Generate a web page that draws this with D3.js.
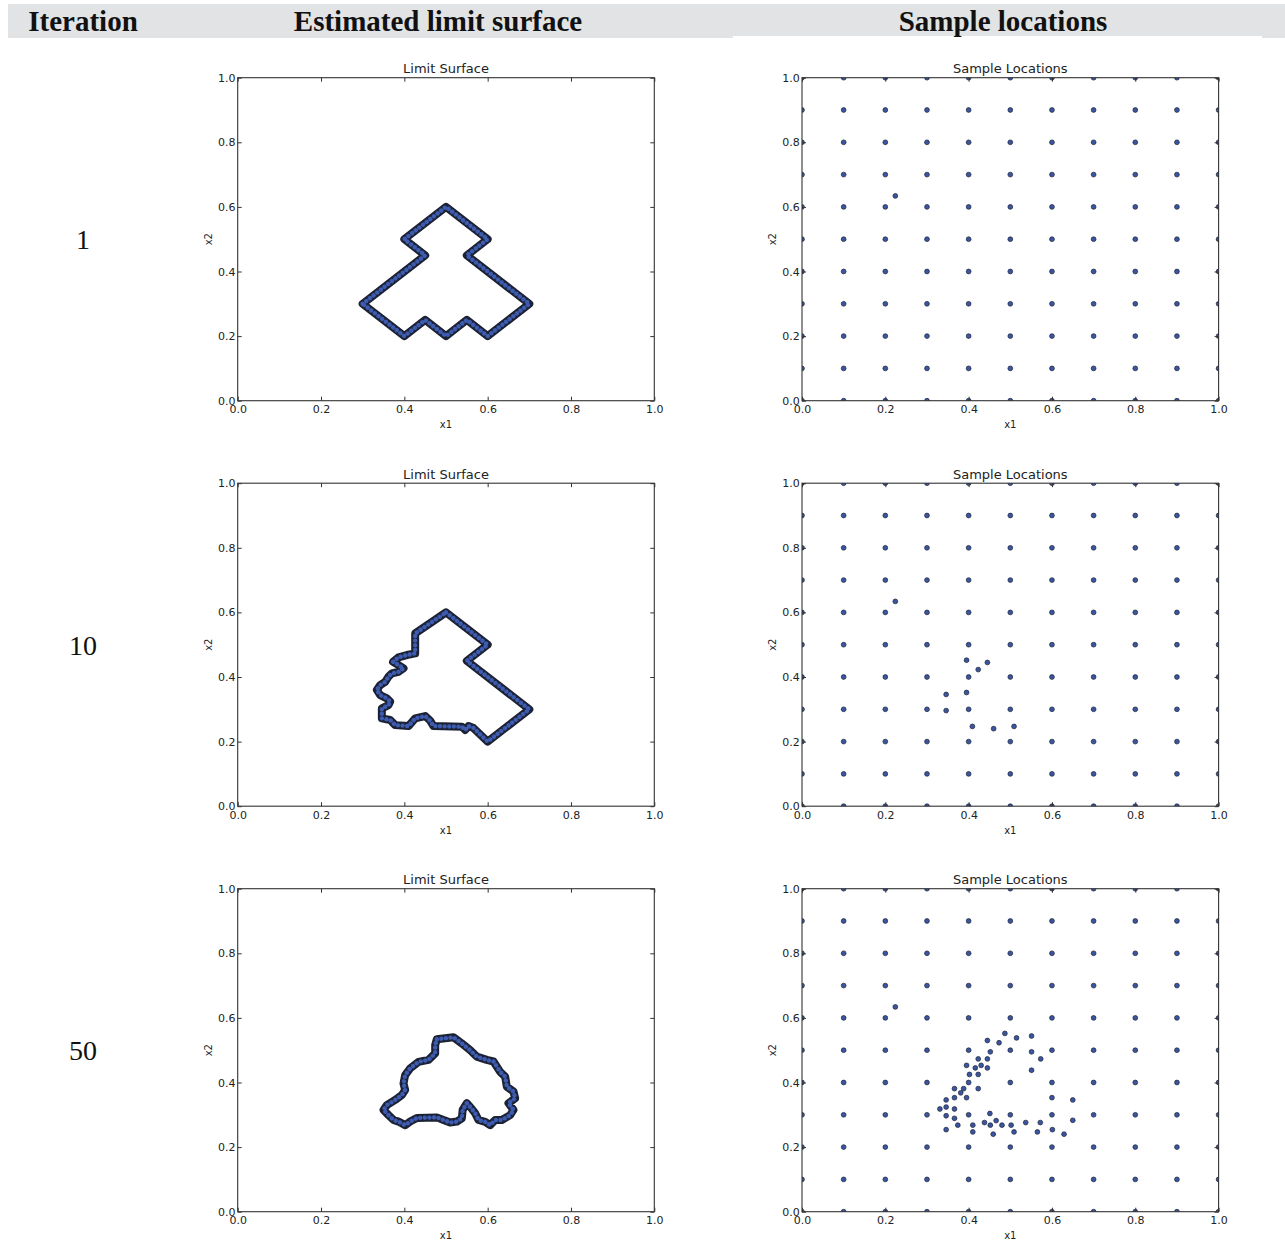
<!DOCTYPE html>
<html>
<head>
<meta charset="utf-8">
<script src="https://cdn.jsdelivr.net/npm/d3@7"></script>
<style>
  html, body { margin: 0; padding: 0; background: #ffffff; }
  svg { display: block; }
</style>
</head>
<body>
<svg id="chart" width="1285" height="1242"></svg>
<script>
// ---------------- DATA ----------------
const headerLabels = ["Iteration", "Estimated limit surface", "Sample locations"];
const iterationLabels = ["1", "10", "50"];
const plotTitles = ["Limit Surface", "Sample Locations"];
const axisLabels = ["x1", "x2"];
const tickValues = [0.0, 0.2, 0.4, 0.6, 0.8, 1.0];

// initial 11 x 11 sample grid coordinates
const gridValues = [0.0, 0.1, 0.2, 0.3, 0.4, 0.5, 0.6, 0.7, 0.8, 0.9, 1.0];

// adaptive samples added after the grid
const extraSamples1 = [[0.224, 0.634]];
const extraSamples10 = [
  [0.224, 0.634], [0.395, 0.452], [0.445, 0.445], [0.423, 0.423], [0.346, 0.346],
  [0.395, 0.352], [0.346, 0.296], [0.409, 0.247], [0.460, 0.240], [0.509, 0.247]
];
const extraSamples50 = [
  [0.224, 0.634],
  [0.487, 0.552], [0.445, 0.530], [0.473, 0.523], [0.515, 0.538], [0.551, 0.544],
  [0.452, 0.495], [0.551, 0.495], [0.573, 0.473], [0.423, 0.473], [0.445, 0.473],
  [0.395, 0.453], [0.416, 0.445], [0.430, 0.453], [0.445, 0.445], [0.551, 0.438],
  [0.402, 0.425], [0.423, 0.425], [0.366, 0.381], [0.388, 0.381], [0.423, 0.381],
  [0.381, 0.368], [0.346, 0.346], [0.366, 0.353], [0.395, 0.353], [0.600, 0.353],
  [0.650, 0.346], [0.331, 0.318], [0.346, 0.324], [0.366, 0.318], [0.346, 0.297],
  [0.366, 0.289], [0.451, 0.304], [0.650, 0.283], [0.374, 0.268], [0.410, 0.268],
  [0.438, 0.276], [0.452, 0.268], [0.466, 0.282], [0.480, 0.268], [0.502, 0.268],
  [0.537, 0.276], [0.572, 0.276], [0.346, 0.254], [0.410, 0.247], [0.459, 0.240],
  [0.509, 0.247], [0.565, 0.247], [0.601, 0.254], [0.629, 0.240]
];

// estimated limit surface (boundary vertices)
const limitSurface1 = [
  [0.30, 0.30], [0.45, 0.45], [0.40, 0.50], [0.50, 0.60], [0.60, 0.50], [0.55, 0.45],
  [0.70, 0.30], [0.60, 0.20], [0.55, 0.25], [0.50, 0.20], [0.45, 0.25], [0.40, 0.20]
];
const limitSurface10 = [
  [0.500, 0.600], [0.600, 0.500], [0.550, 0.450], [0.700, 0.300], [0.600, 0.200],
  [0.566, 0.242], [0.554, 0.248], [0.546, 0.236], [0.538, 0.246], [0.470, 0.248],
  [0.462, 0.265], [0.450, 0.279], [0.426, 0.272], [0.410, 0.248], [0.378, 0.251],
  [0.366, 0.267], [0.346, 0.272], [0.346, 0.303], [0.362, 0.313], [0.366, 0.324],
  [0.358, 0.334], [0.342, 0.344], [0.334, 0.360], [0.342, 0.375], [0.354, 0.385],
  [0.362, 0.401], [0.370, 0.411], [0.386, 0.416], [0.398, 0.427], [0.386, 0.437],
  [0.373, 0.447], [0.386, 0.461], [0.406, 0.468], [0.426, 0.473], [0.426, 0.535]
];
const limitSurface50 = [
  [0.478, 0.534], [0.518, 0.540], [0.538, 0.521], [0.558, 0.500], [0.574, 0.480],
  [0.598, 0.470], [0.614, 0.465], [0.630, 0.433], [0.642, 0.418], [0.646, 0.387],
  [0.662, 0.372], [0.666, 0.351], [0.650, 0.336], [0.662, 0.315], [0.654, 0.299],
  [0.634, 0.284], [0.618, 0.284], [0.606, 0.268], [0.594, 0.278], [0.578, 0.284],
  [0.570, 0.305], [0.561, 0.320], [0.550, 0.336], [0.540, 0.315], [0.538, 0.289],
  [0.526, 0.279], [0.510, 0.276], [0.494, 0.284], [0.478, 0.292], [0.430, 0.290],
  [0.414, 0.279], [0.402, 0.268], [0.386, 0.279], [0.374, 0.284], [0.362, 0.299],
  [0.350, 0.315], [0.358, 0.330], [0.378, 0.346], [0.394, 0.361], [0.402, 0.377],
  [0.398, 0.397], [0.402, 0.423], [0.414, 0.444], [0.434, 0.464], [0.458, 0.470],
  [0.474, 0.490], [0.474, 0.516]
];

const limitSurfaces = [limitSurface1, limitSurface10, limitSurface50];
const extraSamples = [extraSamples1, extraSamples10, extraSamples50];

// ---------------- LAYOUT ----------------
const svg = d3.select("#chart");
const plotW = 416.6, plotH = 323;
const limitLeft = 237.7, sampleLeft = 802;
const rowTops = [77.7, 483.2, 888.7];
const plotFont = "'DejaVu Sans', 'Bitstream Vera Sans', sans-serif";
const serifFont = "'Liberation Serif', 'Times New Roman', serif";
const dotFill = "#3a55a2";
const dotEdge = "#1c2233";

// header band
svg.append("rect").attr("x", 8).attr("y", 4).attr("width", 1277).attr("height", 34).attr("fill", "#e2e3e5");
svg.append("rect").attr("x", 733).attr("y", 36).attr("width", 529).attr("height", 2.5).attr("fill", "#ffffff");

const headerX = [83, 438, 1003];
svg.selectAll("text.header").data(headerLabels).join("text")
  .attr("class", "header")
  .attr("x", (d, i) => headerX[i]).attr("y", 31)
  .attr("text-anchor", "middle")
  .attr("font-family", serifFont).attr("font-weight", "bold").attr("font-size", 29)
  .attr("fill", "#111")
  .text(d => d);

// iteration labels
svg.selectAll("text.iter").data(iterationLabels).join("text")
  .attr("class", "iter")
  .attr("x", 83).attr("y", (d, i) => rowTops[i] + plotH / 2 + 10)
  .attr("text-anchor", "middle")
  .attr("font-family", serifFont).attr("font-size", 28)
  .attr("fill", "#111")
  .text(d => d);

const fmt = d3.format(".1f");

function drawFrame(g, x, y, title) {
  // ticks inside on all sides
  const tickCol = "#333";
  const bottom = g.append("g").attr("transform", `translate(0,${plotH})`)
    .call(d3.axisBottom(x).tickValues(tickValues).tickSize(-4).tickPadding(5).tickFormat(fmt));
  const left = g.append("g")
    .call(d3.axisLeft(y).tickValues(tickValues).tickSize(-4).tickPadding(2.2).tickFormat(fmt));
  const top = g.append("g")
    .call(d3.axisTop(x).tickValues(tickValues).tickSize(-4).tickFormat(""));
  const right = g.append("g").attr("transform", `translate(${plotW},0)`)
    .call(d3.axisRight(y).tickValues(tickValues).tickSize(-4).tickFormat(""));
  [bottom, left, top, right].forEach(a => {
    a.select(".domain").remove();
    a.selectAll(".tick line").attr("stroke", tickCol).attr("stroke-width", 1);
    a.selectAll(".tick text").attr("font-family", plotFont).attr("font-size", 11).attr("fill", "#222");
  });
  g.append("rect").attr("x", 0).attr("y", 0).attr("width", plotW).attr("height", plotH)
    .attr("fill", "none").attr("stroke", "#333").attr("stroke-width", 1.1);

  g.append("text").attr("x", plotW / 2).attr("y", -4.5)
    .attr("text-anchor", "middle").attr("font-family", plotFont).attr("font-size", 13)
    .attr("fill", "#222").text(title);
  g.append("text").attr("x", plotW / 2).attr("y", plotH + 27.5)
    .attr("text-anchor", "middle").attr("font-family", plotFont).attr("font-size", 10)
    .attr("fill", "#222").text(axisLabels[0]);
  g.append("text")
    .attr("transform", `translate(${-29.5},${plotH / 2}) rotate(-90)`)
    .attr("text-anchor", "middle").attr("dominant-baseline", "central")
    .attr("font-family", plotFont).attr("font-size", 10)
    .attr("fill", "#222").text(axisLabels[1]);
}

const x = d3.scaleLinear().domain([0, 1]).range([0, plotW]);
const y = d3.scaleLinear().domain([0, 1]).range([plotH, 0]);

const defs = svg.append("defs");
defs.append("clipPath").attr("id", "plotClip")
  .append("rect").attr("x", 0).attr("y", 0).attr("width", plotW).attr("height", plotH);

const line = d3.line().x(d => x(d[0])).y(d => y(d[1])).curve(d3.curveLinearClosed);
const gridSamples = d3.cross(gridValues, gridValues);

rowTops.forEach((top, r) => {
  // ---- limit surface panel ----
  const gL = svg.append("g").attr("transform", `translate(${limitLeft},${top})`);
  const surf = gL.append("g");
  surf.append("path").datum(limitSurfaces[r])
    .attr("d", line).attr("fill", "none")
    .attr("stroke", dotEdge).attr("stroke-width", 8).attr("stroke-linejoin", "round");
  surf.append("path").datum(limitSurfaces[r])
    .attr("d", line).attr("fill", "none")
    .attr("stroke", "#3d5bb0").attr("stroke-width", 4.4)
    .attr("stroke-linecap", "round").attr("stroke-linejoin", "round")
    .attr("stroke-dasharray", "0.01 4.6");
  drawFrame(gL, x, y, plotTitles[0]);

  // ---- sample locations panel ----
  const gS = svg.append("g").attr("transform", `translate(${sampleLeft},${top})`);
  const pts = gridSamples.concat(extraSamples[r]);
  gS.append("g").attr("clip-path", "url(#plotClip)")
    .selectAll("circle").data(pts).join("circle")
    .attr("cx", d => x(d[0])).attr("cy", d => y(d[1])).attr("r", 2.4)
    .attr("fill", dotFill).attr("stroke", dotEdge).attr("stroke-width", 0.7);
  drawFrame(gS, x, y, plotTitles[1]);
});
</script>
</body>
</html>
